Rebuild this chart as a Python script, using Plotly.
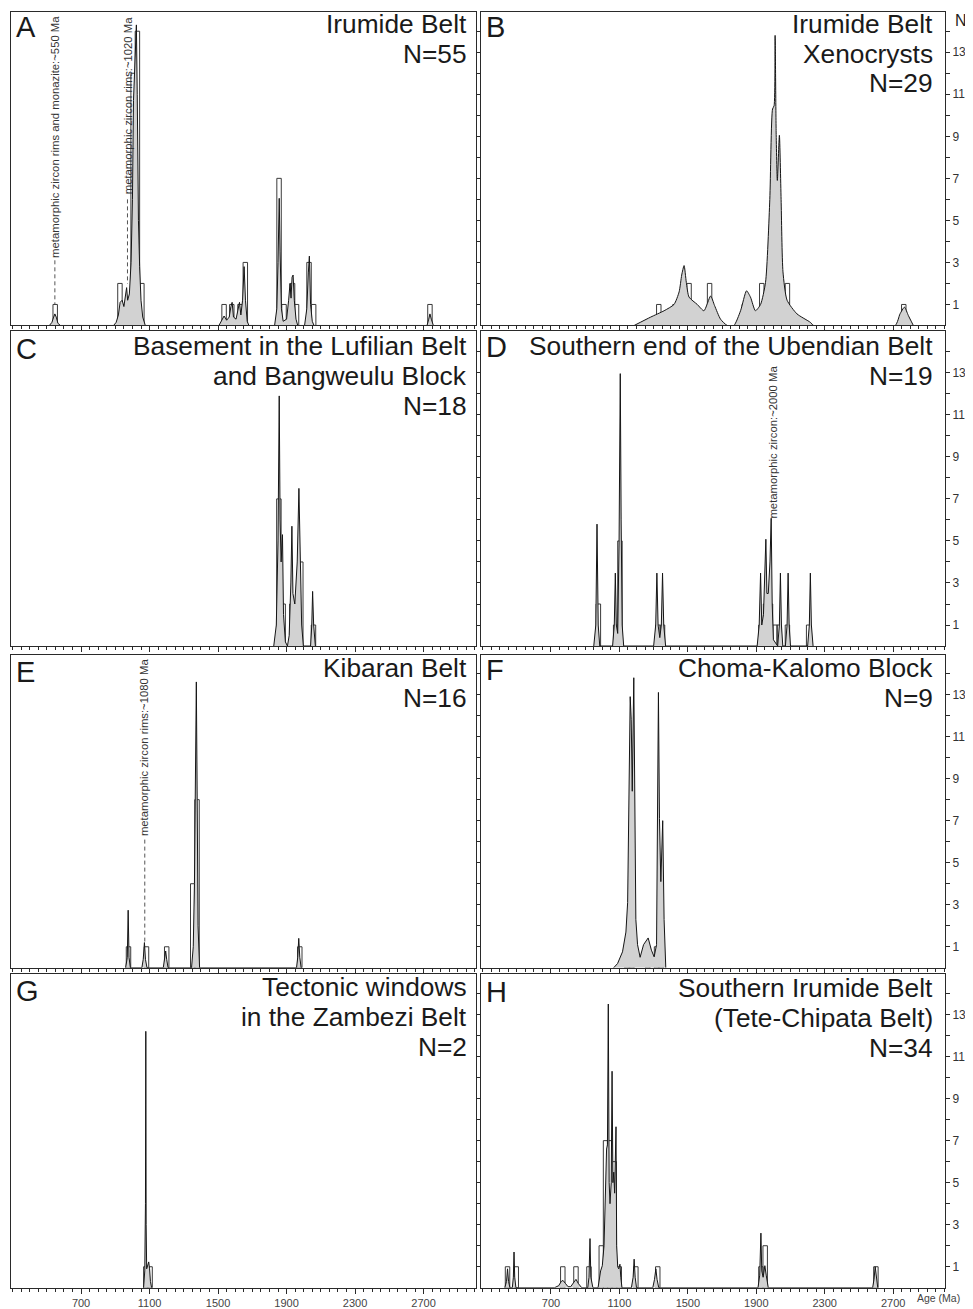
import plotly.graph_objects as go

# ---------------- data (ages in Ma, counts N) ----------------
A_bar_age = [549, 927, 953, 980, 1004, 1029, 1055, 1535, 1580, 1628, 1659, 1856, 1885, 1935, 1958, 2031, 2058, 2737]
A_bar_n = [1, 2, 1, 1, 12, 14, 2, 1, 1, 1, 3, 7, 1, 2, 1, 3, 1, 1]
A_pdp_age = [515, 530, 540, 547, 555, 565, 580,
             890, 905, 918, 928, 940, 950, 960, 966, 972, 982, 992, 1000, 1006, 1012, 1018, 1023, 1028, 1035, 1042, 1050, 1060, 1075,
             1505, 1520, 1535, 1550, 1565, 1575, 1582, 1590, 1605, 1615, 1625, 1633, 1643, 1652, 1660, 1670, 1680,
             1830, 1843, 1850, 1857, 1862, 1870, 1880, 1900, 1912, 1920, 1926, 1932, 1938, 1945, 1955, 1965,
             2005, 2018, 2027, 2033, 2040, 2050, 2060,
             2720, 2730, 2737, 2745, 2757]
A_pdp_n = [0, 0.15, 0.4, 0.55, 0.4, 0.1, 0,
           0, 0.15, 0.5, 1.1, 1.2, 0.9, 1.5, 1.8, 1.2, 1.5, 3.0, 6.0, 10.7, 12.0, 14.0, 14.3, 11.0, 5.0, 2.8, 1.2, 0.4, 0,
           0, 0.2, 0.45, 0.25, 0.4, 0.9, 1.1, 0.4, 0.3, 0.7, 1.1, 0.5, 1.2, 2.8, 1.2, 0.2, 0,
           0, 0.8, 3.0, 6.05, 3.5, 0.8, 0.2, 0.3, 1.2, 2.0, 1.3, 2.3, 2.4, 1.2, 0.3, 0,
           0, 0.8, 2.5, 3.3, 1.0, 0.2, 0,
           0, 0.3, 0.55, 0.3, 0]

B_bar_age = [1330, 1425, 1480, 1507, 1532, 1627, 1830, 1857, 1932, 1977, 2004, 2029, 2055, 2082, 2762]
B_bar_n = [1, 1, 1, 2, 1, 2, 1, 1, 2, 2, 6, 5, 1, 2, 1]
B_pdp_age = [1186, 1283, 1361, 1419, 1449, 1464, 1478, 1491, 1507, 1555, 1594, 1633, 1656, 1691, 1730,
             1769, 1808, 1843, 1866, 1895, 1925, 1954, 1979, 1995, 2004, 2010, 2016, 2023, 2035, 2045,
             2056, 2080, 2138, 2216, 2235, 2711, 2740, 2766, 2789, 2818]
B_pdp_n = [0, 0.4, 0.7, 1.0, 1.6, 2.4, 2.85, 2.05, 1.35, 1.0, 0.7, 1.4, 0.95, 0.3, 0,
           0, 0.7, 1.65, 1.35, 0.7, 1.0, 2.05, 6.0, 10.3, 10.45, 13.8, 9.2, 6.9, 9.05, 6.0,
           2.55, 1.2, 0.55, 0.15, 0, 0, 0.55, 0.87, 0.47, 0]

C_bar_age = [1855, 1880, 1931, 1958, 1983, 2057]
C_bar_n = [7, 2, 2, 2, 4, 1]
C_pdp_age = [1825, 1840, 1850, 1857, 1862, 1868, 1876, 1882, 1893, 1905, 1915, 1925, 1931, 1937, 1948,
             1962, 1972, 1980, 1988, 1998, 2040, 2047, 2052, 2058, 2068]
C_pdp_n = [0, 1.0, 5.0, 11.9, 6.0, 4.0, 5.3, 1.5, 0.2, 0, 0.5, 3.0, 5.7, 2.5, 2.0,
           4.0, 7.5, 4.0, 1.0, 0, 0, 1.0, 2.6, 1.0, 0]

D_bar_age = [977, 1078, 1103, 1324, 1352, 1927, 1954, 1983, 2010, 2033, 2082, 2206]
D_bar_n = [2, 1, 5, 1, 1, 1, 2, 2, 1, 1, 1, 1]
D_pdp_age = [950, 962, 969, 976, 985,
             1060, 1070, 1076, 1082, 1090, 1098, 1105, 1110, 1116, 1125,
             1300, 1312, 1319, 1326, 1336, 1345, 1352, 1359, 1370,
             1905, 1917, 1925, 1932, 1942, 1950, 1956, 1962, 1970, 1980, 1987, 1993, 2000,
             2025, 2035, 2041, 2047, 2055,
             2070, 2080, 2086, 2092, 2100,
             2200, 2210, 2216, 2222, 2232]
D_pdp_n = [0, 1.0, 5.8, 1.0, 0,
           0, 1.0, 3.47, 1.0, 0.6, 5.0, 12.96, 6.0, 1.0, 0,
           0, 1.0, 3.47, 1.0, 0.4, 1.0, 3.47, 1.0, 0,
           0, 1.0, 3.47, 1.0, 1.5, 3.5, 5.08, 2.5, 2.5, 4.0, 6.08, 2.0, 0.3,
           0, 1.0, 3.47, 1.0, 0,
           0, 1.0, 3.47, 1.0, 0,
           0, 1.0, 3.47, 1.0, 0]

E_bar_age = [977, 1082, 1200, 1352, 1377, 1977]
E_bar_n = [1, 1, 1, 4, 8, 1]
E_pdp_age = [960, 970, 975, 980, 988, 1055, 1063, 1070, 1076, 1085, 1180, 1188, 1194, 1200, 1208,
             1345, 1355, 1362, 1368, 1373, 1378, 1383, 1392, 1958, 1965, 1971, 1977, 1985]
E_pdp_n = [0, 0.5, 2.74, 0.5, 0, 0, 0.4, 1.2, 0.4, 0, 0, 0.4, 0.8, 0.4, 0,
           0, 1.0, 4.0, 10.0, 13.6, 8.0, 2.0, 0, 0, 0.5, 1.4, 0.5, 0]

F_bar_age = [1144, 1173, 1266, 1317, 1344]
F_bar_n = [1, 4, 1, 1, 2]
F_pdp_age = [1066, 1089, 1118, 1138, 1148, 1157, 1163, 1169, 1175, 1184, 1190, 1196, 1206, 1221, 1241,
             1268, 1287, 1303, 1317, 1324, 1328, 1334, 1342, 1353, 1361, 1371]
F_pdp_n = [0, 0.2, 0.76, 1.7, 3.1, 8.7, 12.9, 11.8, 8.4, 13.8, 8.7, 2.3, 1.1, 0.5, 1.1,
           1.42, 0.84, 0.52, 1.1, 7.1, 13.1, 7.1, 4.1, 7.0, 2.3, 0]

G_bar_age = [1078, 1103]
G_bar_n = [1, 1]
G_pdp_age = [1065, 1072, 1076, 1078, 1080, 1083, 1088, 1095, 1100, 1105, 1112]
G_pdp_n = [0, 0.8, 4.0, 12.2, 3.0, 0.9, 1.0, 1.23, 0.9, 0.3, 0]

H_bar_age = [446, 497, 769, 846, 922, 994, 1019, 1043, 1070, 1099, 1196, 1324, 1927, 1952, 2599]
H_bar_n = [1, 1, 1, 1, 1, 2, 7, 7, 6, 1, 1, 1, 1, 2, 1]
H_pdp_age = [430, 440, 446, 452, 460, 474, 480, 484, 488, 495,
             720, 745, 760, 770, 785, 800, 815, 830, 846, 860, 880,
             915, 922, 928, 933, 945,
             975, 990, 1000, 1010, 1018, 1025, 1030, 1035, 1040, 1045, 1052, 1057, 1062, 1067, 1072, 1076, 1080,
             1084, 1090, 1096, 1103, 1108, 1115,
             1170, 1180, 1186, 1192, 1200,
             1295, 1305, 1313, 1320, 1330,
             1910, 1920, 1927, 1932, 1940, 1950, 1958, 1970,
             2580, 2588, 2595, 2602, 2610]
H_pdp_n = [0, 0.3, 0.9, 0.3, 0, 0, 0.5, 1.7, 0.5, 0,
           0, 0.1, 0.3, 0.35, 0.2, 0.05, 0.05, 0.25, 0.4, 0.2, 0,
           0, 0.5, 2.34, 0.5, 0,
           0, 0.8, 1.05, 2.0, 5.0, 6.6, 6.8, 13.5, 5.0, 4.0, 5.0, 10.3, 5.0, 5.5, 4.5, 6.0, 7.66,
           2.0, 1.0, 0.9, 1.12, 0.5, 0,
           0, 0.5, 1.36, 0.5, 0,
           0, 0.4, 0.9, 0.4, 0,
           0, 0.6, 2.6, 0.8, 0.5, 1.05, 0.6, 0,
           0, 0.4, 1.0, 0.4, 0]

PANEL_LETTERS = ["A", "B", "C", "D", "E", "F", "G", "H"]
PANEL_TITLES = [
    ["Irumide Belt", "N=55"],
    ["Irumide Belt", "Xenocrysts", "N=29"],
    ["Basement in the Lufilian Belt", "and Bangweulu Block", "N=18"],
    ["Southern end of the Ubendian Belt", "N=19"],
    ["Kibaran Belt", "N=16"],
    ["Choma-Kalomo Block", "N=9"],
    ["Tectonic windows", "in the Zambezi Belt", "N=2"],
    ["Southern Irumide Belt", "(Tete-Chipata Belt)", "N=34"],
]
PANEL_DATA = [
    (A_bar_age, A_bar_n, A_pdp_age, A_pdp_n),
    (B_bar_age, B_bar_n, B_pdp_age, B_pdp_n),
    (C_bar_age, C_bar_n, C_pdp_age, C_pdp_n),
    (D_bar_age, D_bar_n, D_pdp_age, D_pdp_n),
    (E_bar_age, E_bar_n, E_pdp_age, E_pdp_n),
    (F_bar_age, F_bar_n, F_pdp_age, F_pdp_n),
    (G_bar_age, G_bar_n, G_pdp_age, G_pdp_n),
    (H_bar_age, H_bar_n, H_pdp_age, H_pdp_n),
]
AGE_TICKS = [700, 1100, 1500, 1900, 2300, 2700]
N_TICKS = list(range(1, 15))

# annotations of metamorphic ages: (panel index, age, text)
META_NOTES = [
    (0, 547, "metamorphic zircon rims and monazite:~550 Ma"),
    (0, 971, "metamorphic zircon rims:~1020 Ma"),
    (3, 1992, "metamorphic zircon:~2000 Ma"),
    (4, 1072, "metamorphic zircon rims:~1080 Ma"),
]

# ---------------- layout (page-pixel geometry) ----------------
PAGE_W, PAGE_H = 973, 1309
OFF = 8                      # default body margin of the html page
W, H = PAGE_W - OFF, PAGE_H - OFF
COLS = [(10.5, 475.5), (480.5, 945.0)]
ROWS = [(12.0, 326.7), (332.5, 648.5), (657.0, 971.5), (977.7, 1292.7)]
UNIT_PX = 21.1
XRANGE = [288, 3003]
TITLE_TOP = [15, 15, 338.5, 338.5, 661.7, 661.7, 982, 983]
LETTER_CY = [27.5, 26.7, 350.8, 348.8, 675, 672.5, 995, 995.8]
META_BOTTOM_PX = [261, 197, 523, 841]
META_DASH = [(3.1, 1.02), (6.0, 1.98), None, (6.1, 1.25)]
FONT = "Liberation Sans, Arial, sans-serif"
LINE = "#2a2a2a"


def px_x(p):
    return (p - OFF) / W


def px_y(p):
    return 1 - (p - OFF) / H


fig = go.Figure()
annotations = []
shapes = []
for i, (bx, by, cx, cy) in enumerate(PANEL_DATA):
    r, c = divmod(i, 2)
    n = i + 1
    sfx = "" if n == 1 else str(n)
    xa, ya = "x" + sfx, "y" + sfx
    fig.add_trace(go.Scatter(
        x=cx, y=cy, mode="lines", fill="tozeroy", fillcolor="#d2d2d2",
        line=dict(color="#151515", width=1, shape="spline" if i == 1 else "linear", smoothing=0.6),
        xaxis=xa, yaxis=ya, hoverinfo="skip", showlegend=False))
    fig.add_trace(go.Bar(
        x=bx, y=by, width=26,
        marker=dict(color="rgba(0,0,0,0)", line=dict(color="#3a3a3a", width=1)),
        xaxis=xa, yaxis=ya, hoverinfo="skip", showlegend=False))

    x0, x1 = COLS[c]
    y0, y1 = ROWS[r]
    ytop = (y1 - y0) / UNIT_PX
    fig.update_layout(**{
        "xaxis" + sfx: dict(
            domain=[px_x(x0), px_x(x1)], anchor=ya, range=XRANGE,
            showline=True, linecolor=LINE, linewidth=1, mirror=True,
            ticks="outside", tickvals=AGE_TICKS, ticklen=5, tickcolor=LINE, tickwidth=1,
            minor=dict(ticks="outside", dtick=50, tick0=0, ticklen=3, tickcolor=LINE, tickwidth=1),
            showgrid=False, zeroline=False, showticklabels=(r == 3),
            tickfont=dict(family=FONT, size=11, color="#444444"), fixedrange=True),
        "yaxis" + sfx: dict(
            domain=[px_y(y1), px_y(y0)], anchor=xa, range=[0, ytop], side="right",
            showline=True, linecolor=LINE, linewidth=1, mirror=True,
            ticks="outside", tickvals=N_TICKS,
            ticktext=[str(v) if v % 2 == 1 else "" for v in N_TICKS],
            ticklen=4, tickcolor=LINE, tickwidth=1,
            showgrid=False, zeroline=False, showticklabels=(c == 1),
            tickfont=dict(family=FONT, size=12, color="#333333"), fixedrange=True),
    })

    # panel letter
    annotations.append(dict(
        text=PANEL_LETTERS[i], xref="paper", yref="paper",
        x=px_x(x0 + 3.5), y=px_y(LETTER_CY[i]), xanchor="left", yanchor="middle",
        showarrow=False, font=dict(family=FONT, size=29, color="#1a1a1a")))
    # title lines
    right = x1 - (6.2 if c == 0 else 10.5)
    for j, line in enumerate(PANEL_TITLES[i]):
        annotations.append(dict(
            text=line, xref="paper", yref="paper",
            x=px_x(right), y=px_y(TITLE_TOP[i] + j * 29.7 + 9.15),
            xanchor="right", yanchor="middle", showarrow=False,
            font=dict(family=FONT, size=26.3, color="#1a1a1a")))

# metamorphic age notes
for k, (pi, age, txt) in enumerate(META_NOTES):
    n = pi + 1
    sfx = "" if n == 1 else str(n)
    r = pi // 2
    y1 = ROWS[r][1]
    yb = (y1 - META_BOTTOM_PX[k]) / UNIT_PX
    annotations.append(dict(
        text=txt, xref="x" + sfx, yref="y" + sfx, x=age, y=yb,
        xanchor="center", yanchor="bottom", textangle=-90, showarrow=False,
        font=dict(family=FONT, size=11.3, color="#333333")))
    if META_DASH[k] is not None:
        ya0, ya1 = META_DASH[k]
        shapes.append(dict(
            type="line", xref="x" + sfx, yref="y" + sfx, x0=age, x1=age, y0=ya0, y1=ya1,
            line=dict(color="#555555", width=1, dash="4px,3px")))

# axis captions
annotations.append(dict(text="N", xref="paper", yref="paper", x=px_x(961), y=px_y(21),
                        xanchor="center", yanchor="middle", showarrow=False,
                        font=dict(family=FONT, size=16, color="#222222")))
annotations.append(dict(text="Age (Ma)", xref="paper", yref="paper", x=px_x(938), y=px_y(1302.5),
                        xanchor="center", yanchor="middle", showarrow=False,
                        font=dict(family=FONT, size=10.5, color="#444444")))

fig.update_layout(
    width=W, height=H, margin=dict(l=0, r=0, t=0, b=0),
    paper_bgcolor="white", plot_bgcolor="white",
    barmode="overlay", showlegend=False,
    annotations=annotations, shapes=shapes,
)

fig.write_html("out.html")
